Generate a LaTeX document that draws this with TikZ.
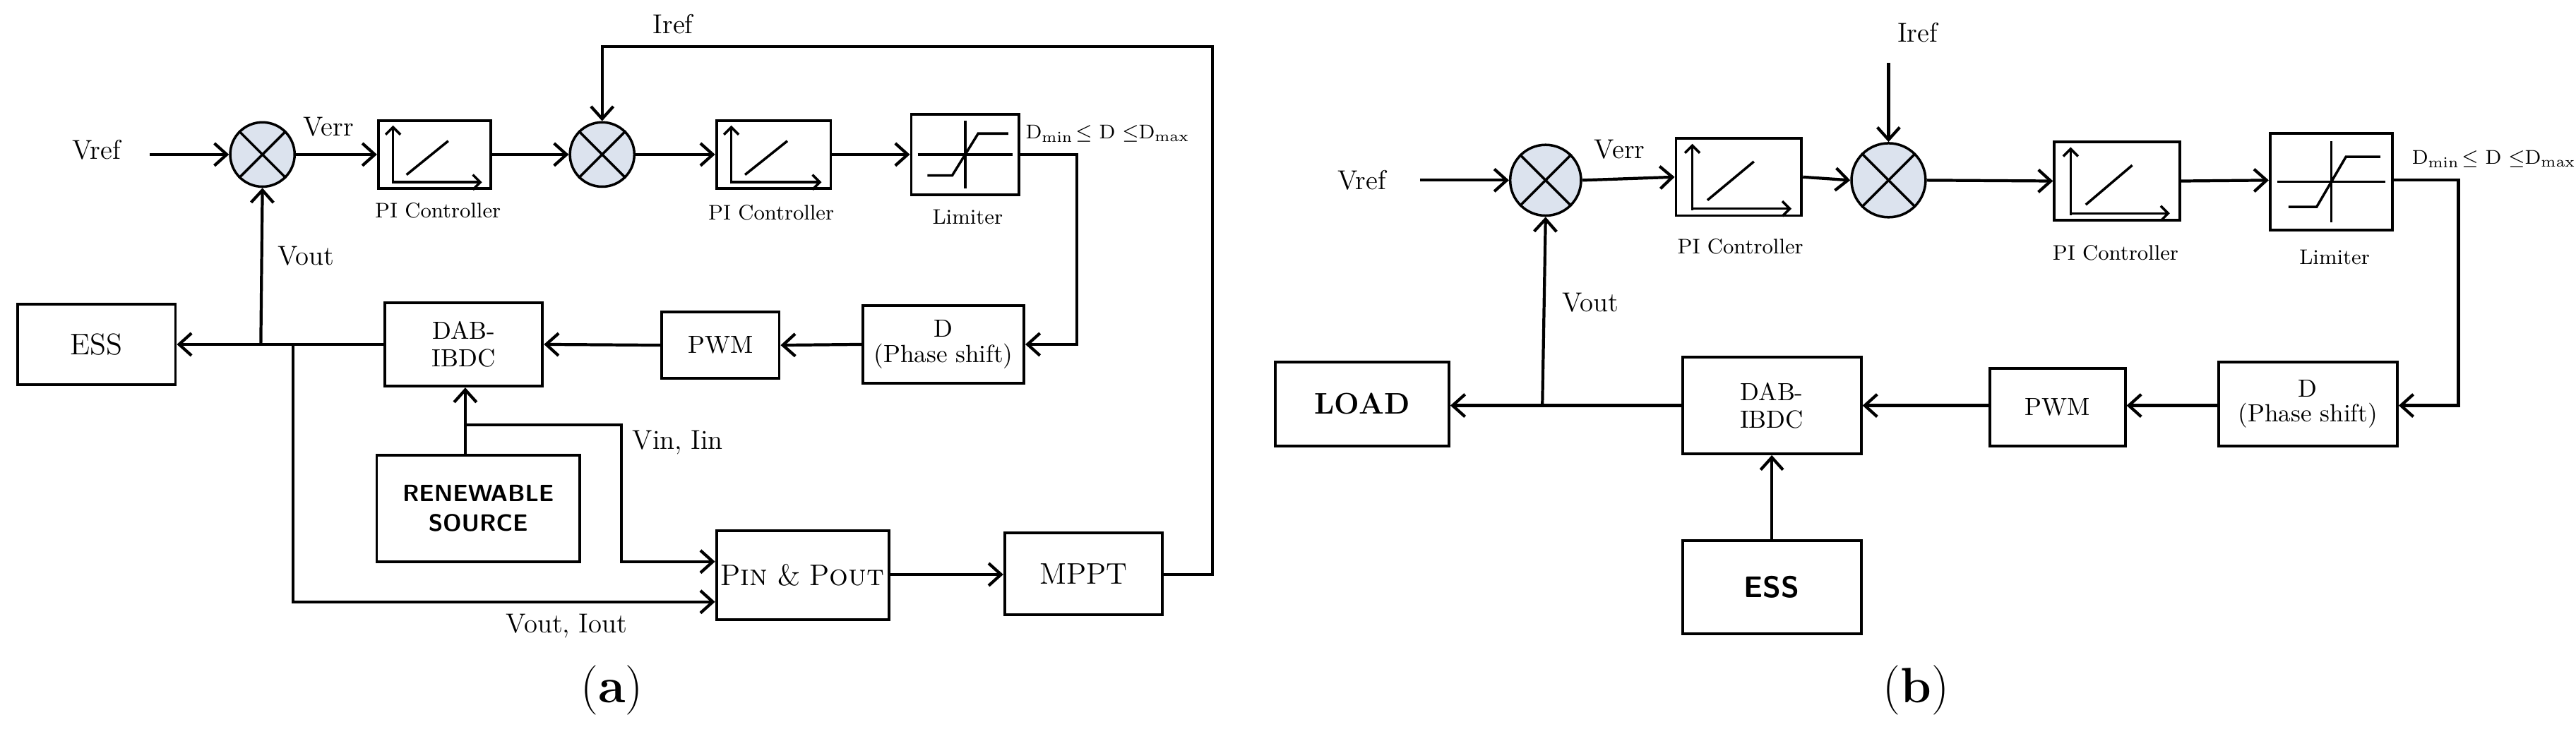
\documentclass[tikz,border=0pt]{standalone}
\usetikzlibrary{arrows.meta,calc}
\definecolor{sumfill}{HTML}{DCE3EE}
\newcommand\bx[7][]{\node[box,#1,minimum width={(#4-#2)*0.0228cm},minimum height={(#5-#3)*0.0228cm}] (#6) at ({(#2+#4)/2},{(#3+#5)/2}) {#7};}
\newcommand\piicon[4]{%
  \draw[thin2,-{Straight Barb[length=3pt,width=6pt]}] ({#1+0.13*(#3-#1)},{#2+0.93*(#4-#2)}) -- ({#1+0.13*(#3-#1)},{#2+0.07*(#4-#2)});
  \draw[thin2,-{Straight Barb[length=3pt,width=6pt]}] ({#1+0.13*(#3-#1)},{#2+0.91*(#4-#2)}) -- ({#1+0.92*(#3-#1)},{#2+0.91*(#4-#2)});
  \draw[thin2] ({#1+0.25*(#3-#1)},{#2+0.8*(#4-#2)}) -- ({#1+0.62*(#3-#1)},{#2+0.3*(#4-#2)});}
\newcommand\limicon[4]{%
  \draw[thin2] ({#1+0.06*(#3-#1)},{(#2+#4)/2}) -- ({#1+0.94*(#3-#1)},{(#2+#4)/2});
  \draw[thin2] ({(#1+#3)/2},{#2+0.08*(#4-#2)}) -- ({(#1+#3)/2},{#2+0.92*(#4-#2)});
  \draw[thin2] ({#1+0.15*(#3-#1)},{#2+0.76*(#4-#2)}) -- ({#1+0.38*(#3-#1)},{#2+0.76*(#4-#2)}) -- ({#1+0.62*(#3-#1)},{#2+0.24*(#4-#2)}) -- ({#1+0.9*(#3-#1)},{#2+0.24*(#4-#2)});}
\begin{document}
\begin{tikzpicture}[x=0.0228cm,y=-0.0228cm,
  box/.style={draw,line width=1.1pt,inner sep=0pt,align=center,font=\fontsize{10}{11}\selectfont},
  thin2/.style={line width=1pt},
  ln/.style={line width=1.2pt},
  arr/.style={ln,-{Straight Barb[length=5pt,width=9pt]}},
  sum/.style={circle,draw,line width=1pt,fill=sumfill,inner sep=0pt,minimum size={40*0.0228cm}},
  lbl/.style={font=\fontsize{11}{12}\selectfont,inner sep=1pt},
  sml/.style={font=\fontsize{8.5}{10}\selectfont,inner sep=1pt},
  subcap/.style={font=\fontsize{20}{22}\selectfont}]
\useasboundingbox (0,0) rectangle (1600,456);
% ================= (a) =================
\node[lbl] (vrefa) at (60,93) {Vref};
\coordinate (vina) at (93,96);
\node[sum] (s1a) at (163,96) {};
\draw[line width=1pt] (s1a.north west)--(s1a.south east) (s1a.north east)--(s1a.south west);
\bx{235}{75}{305}{117}{pi1a}{}
\piicon{235}{75}{305}{117}
\node[sml] at (272,131) {PI Controller};
\node[sum] (s2a) at (374,96) {};
\draw[line width=1pt] (s2a.north west)--(s2a.south east) (s2a.north east)--(s2a.south west);
\bx{445}{75}{516}{117}{pi2a}{}
\piicon{445}{75}{516}{117}
\node[sml] at (479,132) {PI Controller};
\bx{566}{71}{633}{121}{lima}{}
\limicon{566}{71}{633}{121}
\node[sml] at (601,135) {Limiter};
\node[sml,font=\fontsize{8}{9}\selectfont] at (688,83) {D$_{\mathrm{min}}\!\leq$ D $\leq$D$_{\mathrm{max}}$};
\bx{536}{190}{636}{238}{da}{D\\[-1pt](Phase shift)}
\bx{411}{194}{484}{235}{pwma}{PWM}
\bx{239}{188}{337}{240}{daba}{DAB-\\IBDC}
\bx[font=\fontsize{12}{13}\selectfont]{11}{189}{109}{239}{essa}{ESS}
\bx[font=\sffamily\bfseries\fontsize{9.5}{12}\selectfont]{234}{283}{360}{349}{rena}{RENEWABLE\\SOURCE}
\bx[font=\fontsize{12}{13}\selectfont]{445}{330}{552}{385}{pina}{P\textsc{in} \& P\textsc{out}}
\bx[font=\fontsize{12}{13}\selectfont]{624}{331}{722}{382}{mppta}{MPPT}
\coordinate (j1a) at (162,214);
\coordinate (j2a) at (182,214);
\coordinate (j3a) at (289,264);
\draw[arr] (vina) -- (s1a.west);
\draw[arr] (s1a.east) -- (pi1a.west);
\node[lbl] at (204,79) {Verr};
\draw[arr] (pi1a.east) -- (s2a.west);
\draw[arr] (s2a.east) -- (pi2a.west);
\draw[arr] (pi2a.east) -- (lima.west);
\draw[arr] (lima.east) -- (669,96) -- (669,214) -- (da.east);
\draw[arr] (da.west) -- (pwma.east);
\draw[arr] (pwma.west) -- (daba.east);
\draw[arr] (daba.west) -- (essa.east);
\draw[arr] (j1a) -- (s1a.south);
\node[lbl] at (190,159) {Vout};
\draw[arr] (j2a) -- (182,374) -- (pina.west |- 0,374);
\node[lbl] at (352,389) {Vout, Iout};
\draw[arr] (rena.north -| j3a) -- (daba.south -| j3a);
\draw[arr] (j3a) -- (386,264) -- (386,349) -- (pina.west |- 0,349);
\node[lbl] at (421,275) {Vin, Iin};
\draw[arr] (pina.east |- 0,357) -- (mppta.west |- 0,357);
\draw[arr] (mppta.east |- 0,357) -- (753,357) -- (753,29) -- (s2a.north |- 0,29) -- (s2a.north);
\node[lbl] at (418,15) {Iref};
\node[subcap] at (380,429) {(\textbf{a})};
% ================= (b) =================
\node[lbl] at (846,112) {Vref};
\coordinate (vinb) at (882,112);
\node[sum,minimum size={44*0.0228cm}] (s1b) at (960,112) {};
\draw[line width=1pt] (s1b.north west)--(s1b.south east) (s1b.north east)--(s1b.south west);
\bx{1041}{86}{1119}{134}{pi1b}{}
\piicon{1041}{86}{1119}{134}
\node[sml] at (1081,153) {PI Controller};
\node[sum,minimum size={46*0.0228cm}] (s2b) at (1173,112) {};
\draw[line width=1pt] (s2b.north west)--(s2b.south east) (s2b.north east)--(s2b.south west);
\bx{1276}{88}{1354}{137}{pi2b}{}
\piicon{1276}{88}{1354}{137}
\node[sml] at (1314,157) {PI Controller};
\bx{1410}{83}{1486}{143}{limb}{}
\limicon{1410}{83}{1486}{143}
\node[sml] at (1450,160) {Limiter};
\node[sml,font=\fontsize{8}{9}\selectfont] at (1549,99) {D$_{\mathrm{min}}\!\leq$ D $\leq$D$_{\mathrm{max}}$};
\bx{1378}{225}{1489}{277}{db}{D\\[-1pt](Phase shift)}
\bx{1236}{229}{1320}{277}{pwmb}{PWM}
\bx{1045}{222}{1156}{282}{dabb}{DAB-\\IBDC}
\bx[font=\bfseries\fontsize{12}{13}\selectfont]{792}{225}{900}{277}{loadb}{LOAD}
\bx[font=\sffamily\bfseries\fontsize{12}{13}\selectfont]{1045}{336}{1156}{394}{essb}{ESS}
\coordinate (j1b) at (958,252);
\coordinate (irefb) at (1173,39);
\draw[arr] (vinb) -- (s1b.west);
\draw[arr] (s1b.east) -- (pi1b.west);
\node[lbl] at (1006,93) {Verr};
\draw[arr] (pi1b.east) -- (s2b.west);
\draw[arr] (irefb) -- (s2b.north);
\node[lbl] at (1191,20) {Iref};
\draw[arr] (s2b.east) -- (pi2b.west);
\draw[arr] (pi2b.east) -- (limb.west |- 0,112);
\draw[arr] (limb.east |- 0,112) -- (1527,112) -- (1527,252) -- (db.east |- 0,252);
\draw[arr] (db.west |- 0,252) -- (pwmb.east |- 0,252);
\draw[arr] (pwmb.west |- 0,252) -- (dabb.east |- 0,252);
\draw[arr] (dabb.west |- 0,252) -- (loadb.east |- 0,252);
\draw[arr] (j1b) -- (s1b.south);
\node[lbl] at (988,188) {Vout};
\draw[arr] (essb.north) -- (dabb.south);
\node[subcap] at (1190,429) {(\textbf{b})};
\end{tikzpicture}
\end{document}
